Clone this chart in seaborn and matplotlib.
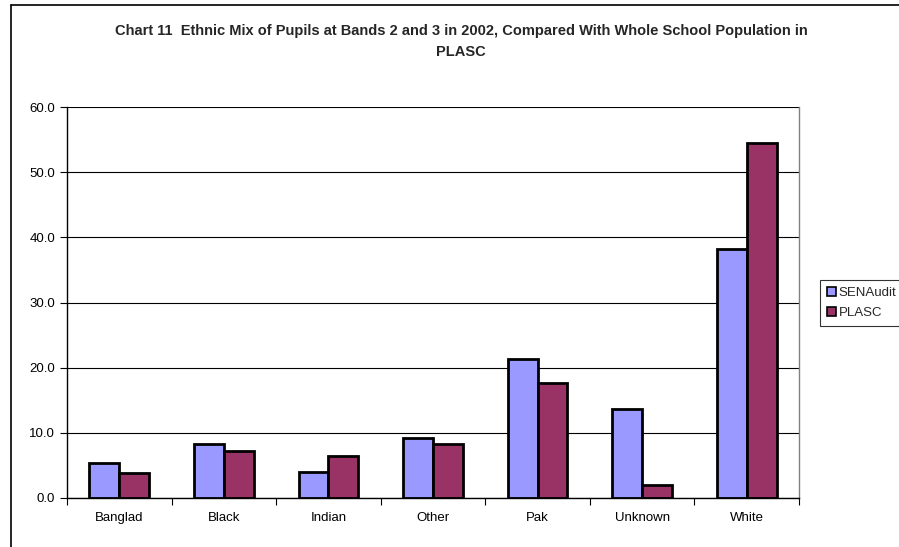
import pandas as pd
import numpy as np
import matplotlib
matplotlib.use('Agg')
import matplotlib.pyplot as plt
import seaborn as sns
from matplotlib.ticker import FixedLocator, FuncFormatter
from matplotlib.lines import Line2D

# Chart data
categories = ['Banglad', 'Black', 'Indian', 'Other', 'Pak', 'Unknown', 'White']
sen_audit = [5.4, 8.3, 4.0, 9.2, 21.3, 13.7, 38.2]
plasc = [3.8, 7.2, 6.4, 8.3, 17.6, 2.0, 54.5]
series_names = ['SENAudit', 'PLASC']
colours = ['#9999FF', '#993366']

df = pd.DataFrame({
    'Ethnic': categories * 2,
    'Value': sen_audit + plasc,
    'Series': [series_names[0]] * len(categories) + [series_names[1]] * len(categories),
})

sns.set_theme(style='white')
plt.rcParams['font.family'] = ['Liberation Sans', 'DejaVu Sans']

fig = plt.figure(figsize=(8.99, 5.47), dpi=100)
ax = fig.add_axes([67 / 899, 1 - 498 / 547, (799 - 67) / 899, (498 - 107) / 547])

sns.barplot(data=df, x='Ethnic', y='Value', hue='Series', palette=colours,
            width=0.57, edgecolor='black', linewidth=2, ax=ax, legend=True,
            saturation=1)

ax.set_ylim(0, 60)
ax.set_xlim(-0.5, len(categories) - 0.5)
ax.set_yticks(np.arange(0, 61, 10))
ax.yaxis.set_major_formatter(FuncFormatter(lambda v, p: f'{v:.1f}'))
ax.grid(axis='y', color='black', linewidth=0.8)
ax.set_axisbelow(True)
ax.set_xlabel('')
ax.set_ylabel('')

# ticks between categories
ax.xaxis.set_major_locator(FixedLocator(np.arange(-0.5, len(categories), 1)))
ax.xaxis.set_minor_locator(FixedLocator(np.arange(len(categories))))
ax.set_xticklabels([])
ax.set_xticklabels(categories, minor=True)
ax.tick_params(axis='x', which='major', direction='out', length=5, width=0.8, color='black', bottom=True)
ax.tick_params(axis='x', which='minor', length=0, labelsize=9.5, pad=10, colors='black')
ax.tick_params(axis='y', direction='out', length=5, width=0.8, color='black', left=True, labelsize=9.5, labelcolor='black')

for side in ['left', 'bottom']:
    ax.spines[side].set_color('black')
    ax.spines[side].set_linewidth(1)
ax.spines['top'].set_visible(False)
ax.spines['right'].set_color('#808080')
ax.spines['right'].set_linewidth(1)

leg = ax.legend(loc='center left', bbox_to_anchor=(820 / 899, 1 - 303 / 547),
                bbox_transform=fig.transFigure, frameon=True, fancybox=False,
                fontsize=9.5, handlelength=0.7, handleheight=0.7, handletextpad=0.2,
                borderpad=0.5, labelspacing=0.6, borderaxespad=0)
leg.get_frame().set_edgecolor('black')
leg.get_frame().set_linewidth(0.8)
for h in leg.legend_handles:
    h.set_edgecolor('black')
    h.set_linewidth(1.2)

fig.text(461 / 899, 1 - 31 / 547, 'Chart 11  Ethnic Mix of Pupils at Bands 2 and 3 in 2002, Compared With Whole School Population in',
         ha='center', va='center', fontsize=10.5, fontweight='bold')
fig.text(461 / 899, 1 - 52 / 547, 'PLASC', ha='center', va='center', fontsize=10.5, fontweight='bold')

# outer chart frame: top and left edges only
fig.add_artist(Line2D([11 / 899, 1], [1 - 5 / 547, 1 - 5 / 547], transform=fig.transFigure,
                      color='black', linewidth=1.2))
fig.add_artist(Line2D([11 / 899, 11 / 899], [0, 1 - 5 / 547], transform=fig.transFigure,
                      color='black', linewidth=1.2))

fig.savefig('out.png', dpi=100)
